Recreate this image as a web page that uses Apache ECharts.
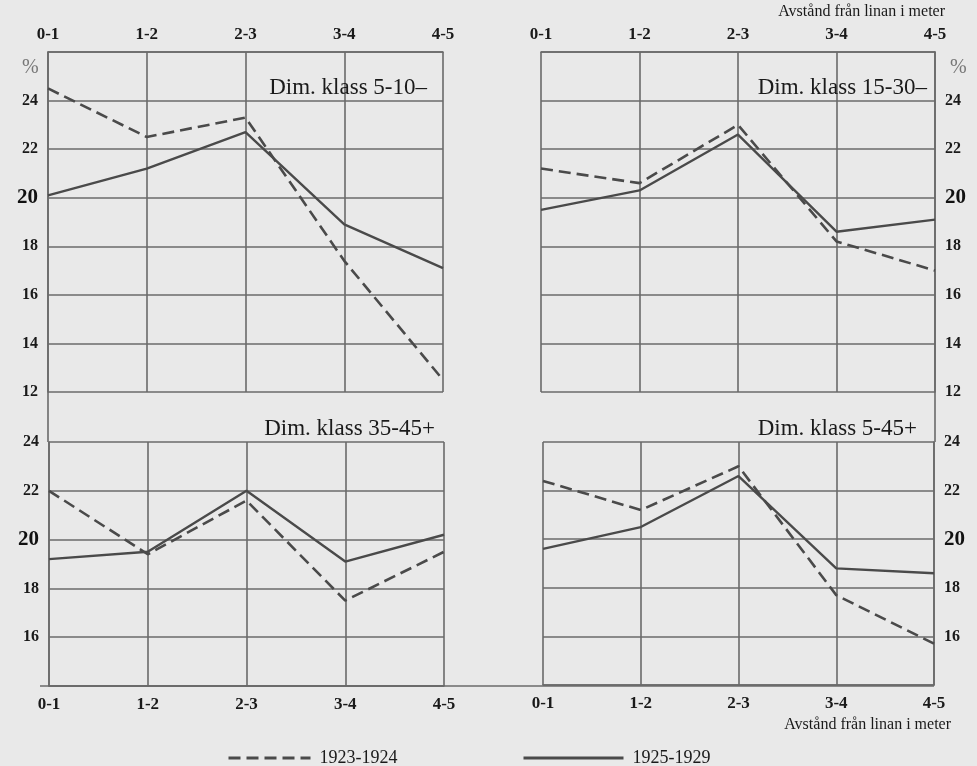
<!DOCTYPE html>
<html>
<head>
<meta charset="utf-8">
<script src="https://cdn.jsdelivr.net/npm/echarts@6/dist/echarts.min.js"></script>
<style>
  html, body { margin: 0; padding: 0; background: #e9e9e9; }
  #chart { width: 977px; height: 766px; }
</style>
</head>
<body>
<div id="chart"></div>
<script>
const categories = ['0-1', '1-2', '2-3', '3-4', '4-5'];

// Dim. klass 5-10-
const k5_10_1923 = [24.5, 22.5, 23.3, 17.4, 12.5];
const k5_10_1925 = [20.1, 21.2, 22.7, 18.9, 17.1];
// Dim. klass 15-30-
const k15_30_1923 = [21.2, 20.6, 23.0, 18.2, 17.0];
const k15_30_1925 = [19.5, 20.3, 22.6, 18.6, 19.1];
// Dim. klass 35-45+
const k35_45_1923 = [22.0, 19.4, 21.6, 17.5, 19.5];
const k35_45_1925 = [19.2, 19.5, 22.0, 19.1, 20.2];
// Dim. klass 5-45+
const k5_45_1923 = [22.4, 21.2, 23.0, 17.7, 15.7];
const k5_45_1925 = [19.6, 20.5, 22.6, 18.8, 18.6];

const panelTitles = ['Dim. klass 5-10–', 'Dim. klass 15-30–', 'Dim. klass 35-45+', 'Dim. klass 5-45+'];
const topTicks = [12, 14, 16, 18, 20, 22, 24];
const bottomTicks = [16, 18, 20, 22, 24];
const yearNames = ['1923-1924', '1925-1929'];
const axisTitle = 'Avstånd från linan i meter';

const FONT = '"Liberation Serif", "DejaVu Serif", serif';
const INK = '#1a1a1a';
const GRID = '#6a6a6a';
const LINE = '#4a4a4a';

const chart = echarts.init(document.getElementById('chart'), null, { renderer: 'canvas' });

const grids = [
  { left: 48, top: 52, width: 395, height: 340 },
  { left: 541, top: 52, width: 394, height: 340 },
  { left: 49, top: 442, width: 395, height: 244 },
  { left: 543, top: 442, width: 391, height: 243 }
];

function xAxis(i, pos) {
  return {
    type: 'category', gridIndex: i, data: categories, position: pos, boundaryGap: false,
    axisLine: { show: true, lineStyle: { color: GRID, width: 1.6 } },
    axisTick: { show: false },
    axisLabel: { color: INK, fontFamily: FONT, fontSize: 17, fontWeight: 'bold', margin: pos === 'top' ? 9 : 10 },
    splitLine: { show: true, lineStyle: { color: GRID, width: 1.6 } }
  };
}

function yAxis(i, pos, min, max, ticks) {
  return {
    type: 'value', gridIndex: i, position: pos, min: min, max: max, interval: 2,
    axisLine: { show: true, lineStyle: { color: GRID, width: 1.6 } },
    axisTick: { show: false },
    axisLabel: {
      color: INK, fontFamily: FONT, fontSize: 16, fontWeight: 'bold', margin: 10,
      formatter: v => ticks.indexOf(v) < 0 ? '' : (v === 20 ? '{b|20}' : String(v)),
      rich: { b: { fontFamily: FONT, fontSize: 21, fontWeight: 'bold', color: '#111' } }
    },
    splitLine: { show: true, lineStyle: { color: GRID, width: 1.6 } }
  };
}

function line(i, name, data, dashed) {
  return {
    type: 'line', name: name, xAxisIndex: i, yAxisIndex: i, data: data,
    symbol: 'none', silent: true,
    lineStyle: { color: LINE, width: dashed ? 2.6 : 2.4, type: dashed ? [12, 6] : 'solid' },
    itemStyle: { color: LINE }
  };
}

const titlePos = [
  { right: 545, top: 71 },
  { right: 45, top: 71 },
  { right: 537, top: 412 },
  { right: 55, top: 412 }
];

function legendBox(name, left, width) {
  return {
    data: [name], left: left, top: 744, itemWidth: width, itemHeight: 14,
    itemStyle: { opacity: 0 },
    lineStyle: { width: 3 },
    textStyle: { fontFamily: FONT, fontSize: 18, color: INK, padding: [0, 0, 0, 4] }
  };
}

const option = {
  backgroundColor: '#e9e9e9',
  animation: false,
  title: panelTitles.map((t, i) => ({
    text: t, right: titlePos[i].right, top: titlePos[i].top,
    textStyle: { fontFamily: FONT, fontSize: 23, fontWeight: 'normal', color: INK }
  })),
  legend: [legendBox(yearNames[0], 222, 82), legendBox(yearNames[1], 517, 100)],
  grid: grids,
  xAxis: [xAxis(0, 'top'), xAxis(1, 'top'), xAxis(2, 'bottom'), xAxis(3, 'bottom')],
  yAxis: [
    yAxis(0, 'left', 12, 26, topTicks),
    yAxis(1, 'right', 12, 26, topTicks),
    yAxis(2, 'left', 14, 24, bottomTicks),
    yAxis(3, 'right', 14, 24, bottomTicks)
  ],
  series: [
    line(0, yearNames[0], k5_10_1923, true),
    line(0, yearNames[1], k5_10_1925, false),
    line(1, yearNames[0], k15_30_1923, true),
    line(1, yearNames[1], k15_30_1925, false),
    line(2, yearNames[0], k35_45_1923, true),
    line(2, yearNames[1], k35_45_1925, false),
    line(3, yearNames[0], k5_45_1923, true),
    line(3, yearNames[1], k5_45_1925, false)
  ],
  graphic: [
    { type: 'text', left: 22, top: 58, style: { text: '%', fontFamily: FONT, fontSize: 20, fill: '#777' } },
    { type: 'text', left: 950, top: 58, style: { text: '%', fontFamily: FONT, fontSize: 20, fill: '#777' } },
    { type: 'text', right: 32, top: 4, style: { text: axisTitle, fontFamily: FONT, fontSize: 16, fill: INK } },
    { type: 'text', right: 26, top: 717, style: { text: axisTitle, fontFamily: FONT, fontSize: 16, fill: INK } },
    // frame lines joining the panels
    { type: 'line', shape: { x1: 48, y1: 392, x2: 48, y2: 442 }, style: { stroke: GRID, lineWidth: 1.6 } },
    { type: 'line', shape: { x1: 935, y1: 392, x2: 935, y2: 442 }, style: { stroke: GRID, lineWidth: 1.6 } },
    { type: 'line', shape: { x1: 40, y1: 686, x2: 934, y2: 686 }, style: { stroke: GRID, lineWidth: 1.6 } }
  ]
};

chart.setOption(option);
</script>
</body>
</html>
